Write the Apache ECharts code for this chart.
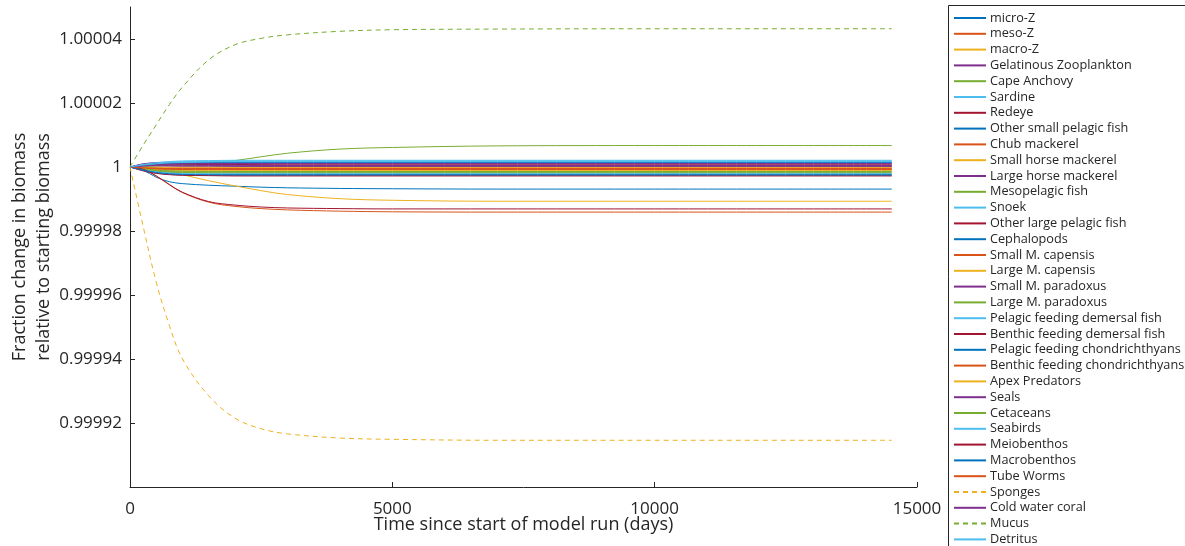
<!DOCTYPE html>
<html>
<head>
<meta charset="utf-8">
<script src="https://cdn.jsdelivr.net/npm/echarts@6/dist/echarts.min.js"></script>
<style>
  html, body { margin: 0; padding: 0; background: #fff; }
  #biomassChart { width: 1185px; height: 546px; }
</style>
</head>
<body>
<div id="biomassChart"></div>
<script>
const days = [0, 250, 500, 750, 1000, 1500, 2000, 2500, 3000, 4000, 5000, 7000, 10000, 14520]

const groupNames = [
  'micro-Z', 'meso-Z', 'macro-Z', 'Gelatinous Zooplankton', 'Cape Anchovy', 'Sardine', 'Redeye',
  'Other small pelagic fish', 'Chub mackerel', 'Small horse mackerel', 'Large horse mackerel',
  'Mesopelagic fish', 'Snoek', 'Other large pelagic fish', 'Cephalopods', 'Small M. capensis',
  'Large M. capensis', 'Small M. paradoxus', 'Large M. paradoxus', 'Pelagic feeding demersal fish',
  'Benthic feeding demersal fish', 'Pelagic feeding chondrichthyans', 'Benthic feeding chondrichthyans',
  'Apex Predators', 'Seals', 'Cetaceans', 'Seabirds', 'Meiobenthos', 'Macrobenthos', 'Tube Worms',
  'Sponges', 'Cold water coral', 'Mucus', 'Detritus'
]

const microZ = [1, 0.9999990, 0.9999968, 0.9999954, 0.9999948, 0.9999943, 0.9999940, 0.9999937, 0.9999935, 0.9999933, 0.9999932, 0.9999931, 0.9999931, 0.9999931]
const mesoZ = [1, 0.9999993, 0.9999972, 0.9999945, 0.9999920, 0.9999890, 0.9999877, 0.9999870, 0.9999866, 0.9999862, 0.9999860, 0.9999859, 0.9999859, 0.9999859]
const macroZ = [1, 0.9999997, 0.9999992, 0.9999985, 0.9999976, 0.9999957, 0.9999941, 0.9999926, 0.9999914, 0.9999901, 0.9999896, 0.9999893, 0.9999893, 0.9999893]
const gelatinous = [1, 1.0000008, 1.0000011, 1.0000010, 1.0000009, 1.0000007, 1.0000006, 1.0000005, 1.0000005, 1.0000005, 1.0000005, 1.0000005, 1.0000005, 1.0000005]
const capeAnchovy = [1, 1.0000001, 1.0000003, 1.0000005, 1.0000007, 1.0000012, 1.0000020, 1.0000032, 1.0000043, 1.0000056, 1.0000061, 1.0000066, 1.0000067, 1.0000067]
const sardine = [1, 1.0000009, 1.0000014, 1.0000017, 1.0000019, 1.0000020, 1.0000021, 1.0000021, 1.0000021, 1.0000021, 1.0000021, 1.0000021, 1.0000021, 1.0000021]
const redeye = [1, 0.9999998, 0.9999999, 1, 1, 1, 1, 1, 1, 1, 1, 1, 1, 1]
const otherSmallPelagic = [1, 1.0000007, 1.0000011, 1.0000013, 1.0000014, 1.0000015, 1.0000015, 1.0000015, 1.0000015, 1.0000015, 1.0000015, 1.0000015, 1.0000015, 1.0000015]
const chubMackerel = [1, 0.9999998, 0.9999997, 0.9999996, 0.9999996, 0.9999996, 0.9999996, 0.9999996, 0.9999996, 0.9999996, 0.9999996, 0.9999996, 0.9999996, 0.9999996]
const smallHorseMackerel = [1, 0.9999996, 0.9999993, 0.9999991, 0.9999990, 0.9999990, 0.9999990, 0.9999990, 0.9999990, 0.9999990, 0.9999990, 0.9999990, 0.9999990, 0.9999990]
const largeHorseMackerel = [1, 1.0000010, 1.0000013, 1.0000012, 1.0000011, 1.0000009, 1.0000008, 1.0000007, 1.0000006, 1.0000006, 1.0000006, 1.0000006, 1.0000006, 1.0000006]
const mesopelagic = [1, 0.9999994, 0.9999989, 0.9999986, 0.9999985, 0.9999984, 0.9999984, 0.9999984, 0.9999984, 0.9999984, 0.9999984, 0.9999984, 0.9999984, 0.9999984]
const snoek = [1, 0.9999992, 0.9999986, 0.9999983, 0.9999981, 0.9999980, 0.9999980, 0.9999980, 0.9999980, 0.9999980, 0.9999980, 0.9999980, 0.9999980, 0.9999980]
const otherLargePelagic = [1, 1.0000005, 1.0000008, 1.0000009, 1.0000009, 1.0000009, 1.0000009, 1.0000009, 1.0000009, 1.0000009, 1.0000009, 1.0000009, 1.0000009, 1.0000009]
const cephalopods = [1, 0.9999989, 0.9999981, 0.9999977, 0.9999975, 0.9999974, 0.9999974, 0.9999974, 0.9999974, 0.9999974, 0.9999974, 0.9999974, 0.9999974, 0.9999974]
const smallMCapensis = [1, 0.9999997, 0.9999995, 0.9999994, 0.9999993, 0.9999993, 0.9999993, 0.9999993, 0.9999993, 0.9999993, 0.9999993, 0.9999993, 0.9999993, 0.9999993]
const largeMCapensis = [1, 0.9999995, 0.9999991, 0.9999989, 0.9999988, 0.9999988, 0.9999988, 0.9999988, 0.9999988, 0.9999988, 0.9999988, 0.9999988, 0.9999988, 0.9999988]
const smallMParadoxus = [1, 1.0000004, 1.0000006, 1.0000006, 1.0000005, 1.0000005, 1.0000004, 1.0000004, 1.0000004, 1.0000004, 1.0000004, 1.0000004, 1.0000004, 1.0000004]
const largeMParadoxus = [1, 0.9999993, 0.9999987, 0.9999984, 0.9999983, 0.9999982, 0.9999982, 0.9999982, 0.9999982, 0.9999982, 0.9999982, 0.9999982, 0.9999982, 0.9999982]
const pelagicDemersal = [1, 0.9999991, 0.9999985, 0.9999981, 0.9999979, 0.9999978, 0.9999978, 0.9999978, 0.9999978, 0.9999978, 0.9999978, 0.9999978, 0.9999978, 0.9999978]
const benthicDemersal = [1, 0.9999988, 0.9999980, 0.9999976, 0.9999974, 0.9999973, 0.9999972, 0.9999972, 0.9999972, 0.9999972, 0.9999972, 0.9999972, 0.9999972, 0.9999972]
const pelagicChondr = [1, 1.0000005, 1.0000009, 1.0000011, 1.0000012, 1.0000013, 1.0000013, 1.0000013, 1.0000013, 1.0000013, 1.0000013, 1.0000013, 1.0000013, 1.0000013]
const benthicChondr = [1, 0.9999997, 0.9999994, 0.9999993, 0.9999992, 0.9999992, 0.9999992, 0.9999992, 0.9999992, 0.9999992, 0.9999992, 0.9999992, 0.9999992, 0.9999992]
const apexPredators = [1, 0.9999999, 0.9999999, 0.9999998, 0.9999998, 0.9999998, 0.9999998, 0.9999998, 0.9999998, 0.9999998, 0.9999998, 0.9999998, 0.9999998, 0.9999998]
const seals = [1, 1.0000003, 1.0000004, 1.0000004, 1.0000003, 1.0000003, 1.0000002, 1.0000002, 1.0000002, 1.0000002, 1.0000002, 1.0000002, 1.0000002, 1.0000002]
const cetaceans = [1, 0.9999995, 0.9999990, 0.9999988, 0.9999987, 0.9999986, 0.9999986, 0.9999986, 0.9999986, 0.9999986, 0.9999986, 0.9999986, 0.9999986, 0.9999986]
const seabirds = [1, 1.0000008, 1.0000013, 1.0000015, 1.0000017, 1.0000018, 1.0000019, 1.0000019, 1.0000019, 1.0000019, 1.0000019, 1.0000019, 1.0000019, 1.0000019]
const meiobenthos = [1, 0.9999993, 0.9999972, 0.9999945, 0.9999921, 0.9999892, 0.9999881, 0.9999875, 0.9999872, 0.9999870, 0.9999869, 0.9999869, 0.9999869, 0.9999869]
const macrobenthos = [1, 0.9999990, 0.9999983, 0.9999979, 0.9999977, 0.9999976, 0.9999976, 0.9999976, 0.9999976, 0.9999976, 0.9999976, 0.9999976, 0.9999976, 0.9999976]
const tubeWorms = [1, 0.9999998, 0.9999996, 0.9999995, 0.9999995, 0.9999995, 0.9999995, 0.9999995, 0.9999995, 0.9999995, 0.9999995, 0.9999995, 0.9999995, 0.9999995]
const sponges = [1, 0.9999815, 0.9999640, 0.9999505, 0.9999400, 0.9999285, 0.9999215, 0.9999182, 0.9999166, 0.9999153, 0.9999149, 0.9999146, 0.9999146, 0.9999146]
const coldWaterCoral = [1, 1.0000004, 1.0000007, 1.0000009, 1.0000010, 1.0000011, 1.0000011, 1.0000011, 1.0000011, 1.0000011, 1.0000011, 1.0000011, 1.0000011, 1.0000011]
const mucus = [1, 1.0000068, 1.0000132, 1.0000195, 1.0000250, 1.0000335, 1.0000382, 1.0000402, 1.0000413, 1.0000424, 1.0000429, 1.0000431, 1.0000432, 1.0000432]
const detritus = [1, 1.0000006, 1.0000010, 1.0000013, 1.0000014, 1.0000016, 1.0000017, 1.0000017, 1.0000017, 1.0000017, 1.0000017, 1.0000017, 1.0000017, 1.0000017]

const groupValues = [
  microZ, mesoZ, macroZ, gelatinous, capeAnchovy, sardine, redeye,
  otherSmallPelagic, chubMackerel, smallHorseMackerel, largeHorseMackerel,
  mesopelagic, snoek, otherLargePelagic, cephalopods, smallMCapensis,
  largeMCapensis, smallMParadoxus, largeMParadoxus, pelagicDemersal,
  benthicDemersal, pelagicChondr, benthicChondr,
  apexPredators, seals, cetaceans, seabirds, meiobenthos, macrobenthos, tubeWorms,
  sponges, coldWaterCoral, mucus, detritus
]

const yTicks = [0.99992, 0.99994, 0.99996, 0.99998, 1, 1.00002, 1.00004]
const xTicks = [0, 5000, 10000, 15000]

const lineColors = ['#0072BD', '#D95319', '#EDB120', '#7E2F8E', '#77AC30', '#4DBEEE', '#A2142F']
const dashedGroups = ['Sponges', 'Mucus']

const fontFamily = '"Open Sans", "Noto Sans", sans-serif'
const axisColor = '#262626'

const series = groupNames.map((name, i) => ({
  name: name,
  type: 'line',
  symbol: 'none',
  smooth: 0.35,
  color: lineColors[i % lineColors.length],
  lineStyle: {
    width: 1,
    type: dashedGroups.includes(name) ? [5, 4] : 'solid'
  },
  data: days.map((d, k) => [d, groupValues[i][k]])
}))

const option = {
  animation: false,
  textStyle: { fontFamily: fontFamily },
  grid: {
    left: 130,
    right: 268,
    top: 7,
    bottom: 59,
    containLabel: false,
    outerBoundsMode: 'none'
  },
  graphic: [
    {
      type: 'rect',
      z: 0,
      shape: { x: 948.5, y: 5.5, width: 300, height: 600 },
      style: { fill: '#fff', stroke: axisColor, lineWidth: 1 }
    }
  ],
  legend: {
    orient: 'vertical',
    left: 953,
    top: 11,
    height: 600,
    padding: 0,
    itemWidth: 32,
    itemHeight: 14,
    itemGap: 1.8,
    itemStyle: { opacity: 0 },
    textStyle: {
      fontFamily: fontFamily,
      fontSize: 12.7,
      lineHeight: 14,
      color: axisColor,
      padding: [0, 0, 0, -1]
    },
    data: groupNames
  },
  xAxis: {
    type: 'value',
    min: 0,
    max: 15000,
    interval: 5000,
    name: 'Time since start of model run (days)',
    nameLocation: 'middle',
    nameGap: 29,
    nameMoveOverlap: false,
    nameTextStyle: { fontSize: 18, color: axisColor, fontFamily: fontFamily },
    axisLine: { lineStyle: { color: axisColor, width: 1 } },
    axisTick: { inside: true, length: 5, lineStyle: { color: axisColor }, customValues: xTicks },
    axisLabel: {
      fontSize: 17,
      color: axisColor,
      margin: 14,
      customValues: xTicks,
      formatter: v => String(v)
    },
    splitLine: { show: false }
  },
  yAxis: {
    type: 'value',
    min: 0.9999,
    max: 1.00005,
    name: 'Fraction change in biomass\nrelative to starting biomass',
    nameLocation: 'middle',
    nameGap: 74,
    nameMoveOverlap: false,
    nameTextStyle: { fontSize: 18, lineHeight: 24, color: axisColor, fontFamily: fontFamily },
    axisLine: { show: true, lineStyle: { color: axisColor, width: 1 } },
    axisTick: { inside: true, length: 5, lineStyle: { color: axisColor }, customValues: yTicks },
    axisLabel: {
      fontSize: 17,
      color: axisColor,
      margin: 8,
      customValues: yTicks,
      formatter: v => String(parseFloat(v.toFixed(5)))
    },
    splitLine: { show: false }
  },
  series: series
}

const myChart = echarts.init(document.getElementById('biomassChart'))
myChart.setOption(option)
window.addEventListener('resize', () => {
  myChart.resize()
})
</script>
</body>
</html>
